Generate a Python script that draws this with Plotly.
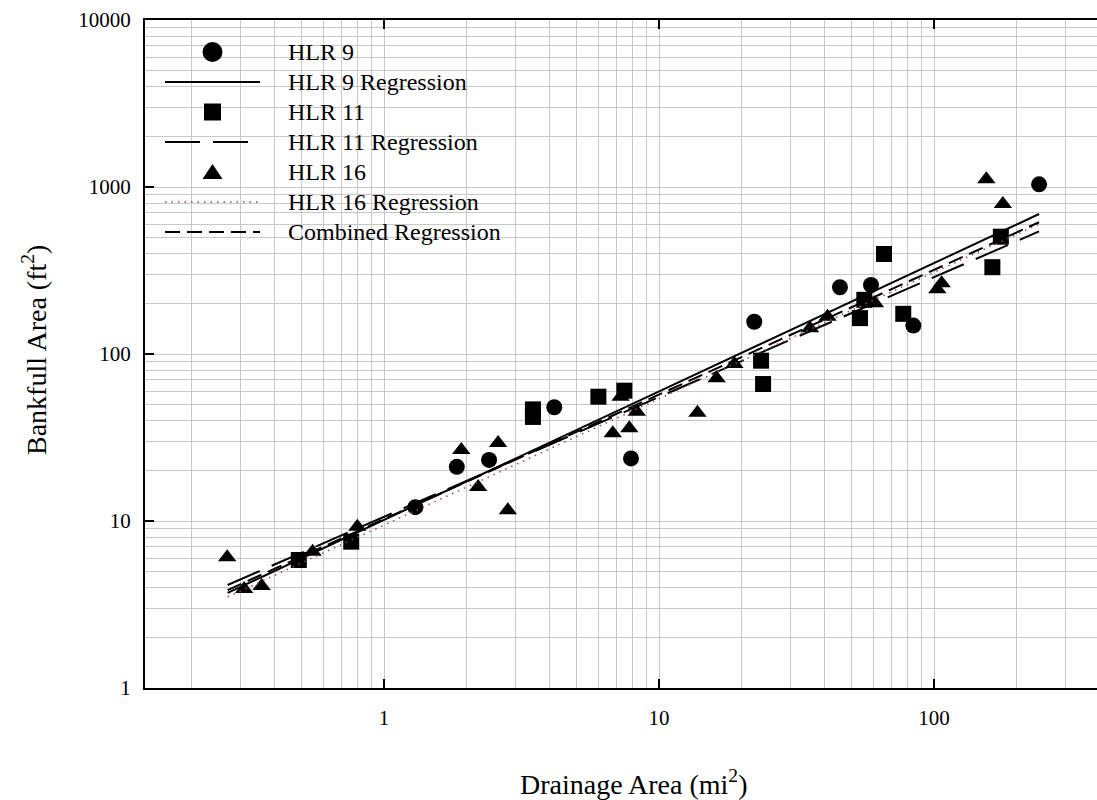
import plotly.graph_objects as go

# Drainage area (mi^2) and bankfull cross-section area (ft^2) by region
hlr9_area = [1.30, 1.84, 2.41, 4.16, 7.91, 22.2, 45.5, 59.0, 84.1, 241]
hlr9_bankfull = [12.1, 21.1, 23.2, 48.0, 23.7, 156, 251, 259, 148, 1038]

hlr11_area = [0.49, 0.76, 3.48, 3.48, 6.02, 7.48, 23.5, 23.9, 53.8, 55.8, 65.8, 77.3, 163, 175]
hlr11_bankfull = [5.84, 7.52, 42.0, 46.6, 55.5, 60.3, 91.2, 66.1, 164, 211, 397, 174, 331, 504]

hlr16_area = [0.269, 0.31, 0.359, 0.55, 0.80, 1.91, 2.20, 2.60, 2.82, 6.79, 7.25, 7.80,
              8.30, 13.8, 16.2, 18.8, 35.4, 41.0, 61.0, 102.8, 106.6, 155, 178]
hlr16_bankfull = [6.06, 3.92, 4.08, 6.55, 9.25, 26.6, 16.0, 29.3, 11.6, 33.5, 55.5, 35.9,
                  45.1, 44.5, 71.6, 87.1, 142.6, 167, 201, 244, 265, 1112, 791]

# Regression curve end points
reg_area = [0.27, 241]
hlr9_fit = [3.71, 689]
hlr11_fit = [4.14, 542]
hlr16_fit = [3.51, 600]
combined_fit = [3.86, 615]

x_ticks = [1, 10, 100]
x_minor = [0.2, 0.3, 0.4, 0.5, 0.6, 0.7, 0.8, 0.9,
           2, 3, 4, 5, 6, 7, 8, 9,
           20, 30, 40, 50, 60, 70, 80, 90, 200, 300]
y_ticks = [1, 10, 100, 1000, 10000]
y_minor = [m * d for d in (1, 10, 100, 1000) for m in range(2, 10)]

FONT = "Liberation Serif"
W, H = 1097, 800
ML, MT, MB, MR = 145, 20, 112, 0
PW, PH = W - ML - MR, H - MT - MB


def px(x):
    return (x - ML) / PW


def py(y):
    return (H - MB - y) / PH


fig = go.Figure()

marker_line = dict(width=0)
fig.add_trace(go.Scatter(x=hlr9_area, y=hlr9_bankfull, mode="markers", name="HLR 9",
                         marker=dict(symbol="circle", size=16, color="black", line=marker_line)))
fig.add_trace(go.Scatter(x=hlr11_area, y=hlr11_bankfull, mode="markers", name="HLR 11",
                         marker=dict(symbol="square", size=16, color="black", line=marker_line)))
fig.add_trace(go.Scatter(x=hlr16_area, y=hlr16_bankfull, mode="markers", name="HLR 16",
                         marker=dict(symbol="triangle-up", size=16, color="black", line=marker_line)))

line_styles = {
    "HLR 9 Regression": dict(color="black", width=2, dash="solid"),
    "HLR 11 Regression": dict(color="black", width=2, dash="35px,13px"),
    "HLR 16 Regression": dict(color="#9c4a4a", width=1.5, dash="1.5px,5px"),
    "Combined Regression": dict(color="black", width=2, dash="15px,7px"),
}
fits = {
    "HLR 9 Regression": hlr9_fit,
    "HLR 11 Regression": hlr11_fit,
    "HLR 16 Regression": hlr16_fit,
    "Combined Regression": combined_fit,
}
for name, vals in fits.items():
    fig.add_trace(go.Scatter(x=reg_area, y=vals, mode="lines", name=name,
                             line=line_styles[name]))

# Hand-built legend in the upper-left corner of the plot
shapes = []
annotations = []
rows = [52, 82, 112, 142, 172, 202, 232]
labels = ["HLR 9", "HLR 9 Regression", "HLR 11", "HLR 11 Regression",
          "HLR 16", "HLR 16 Regression", "Combined Regression"]
gx, lx0, lx1, tx = 212.5, 165, 260, 286
for ry, lab in zip(rows, labels):
    if lab == "HLR 9":
        shapes.append(dict(type="circle", xref="paper", yref="paper",
                           x0=px(gx - 10), x1=px(gx + 10), y0=py(ry + 10), y1=py(ry - 10),
                           fillcolor="black", line=dict(width=0)))
    elif lab == "HLR 11":
        shapes.append(dict(type="rect", xref="paper", yref="paper",
                           x0=px(gx - 8.5), x1=px(gx + 8.5), y0=py(ry + 8.5), y1=py(ry - 8.5),
                           fillcolor="black", line=dict(width=0)))
    elif lab == "HLR 16":
        path = "M {:.5f} {:.5f} L {:.5f} {:.5f} L {:.5f} {:.5f} Z".format(
            px(gx - 10), py(ry + 7), px(gx + 10), py(ry + 7), px(gx), py(ry - 8))
        shapes.append(dict(type="path", xref="paper", yref="paper", path=path,
                           fillcolor="black", line=dict(width=0)))
    else:
        shapes.append(dict(type="line", xref="paper", yref="paper",
                           x0=px(lx0), x1=px(lx1), y0=py(ry), y1=py(ry),
                           line=line_styles[lab]))
    annotations.append(dict(xref="paper", yref="paper", x=px(tx), y=py(ry),
                            xanchor="left", yanchor="middle", showarrow=False,
                            text=lab, font=dict(family=FONT, size=24, color="black")))

annotations.append(dict(xref="paper", yref="paper", x=px(633), y=py(782),
                        xanchor="center", yanchor="middle", showarrow=False,
                        text="Drainage Area (mi<sup>2</sup>)",
                        font=dict(family=FONT, size=28, color="black")))
annotations.append(dict(xref="paper", yref="paper", x=px(35), y=py(350),
                        xanchor="center", yanchor="middle", showarrow=False, textangle=-90,
                        text="Bankfull Area (ft<sup>2</sup>)",
                        font=dict(family=FONT, size=28, color="black")))

grid_color = "#c8c8c8"
fig.update_layout(
    width=W, height=H,
    margin=dict(l=ML, r=MR, t=MT, b=MB, pad=0),
    paper_bgcolor="white", plot_bgcolor="white",
    showlegend=False,
    font=dict(family=FONT, color="black"),
    shapes=shapes, annotations=annotations,
    xaxis=dict(type="log", range=[-0.8691, 2.5927],
               tickmode="array", tickvals=x_ticks, ticktext=[str(v) for v in x_ticks],
               ticks="inside", ticklen=9, tickwidth=1.5, tickcolor="black",
               showline=True, linecolor="black", linewidth=2, mirror="ticks",
               showgrid=True, gridcolor=grid_color, gridwidth=1,
               minor=dict(tickmode="array", tickvals=x_minor, showgrid=True,
                          gridcolor=grid_color, gridwidth=1, ticks=""),
               tickfont=dict(family=FONT, size=21, color="black"),
               ticklabelstandoff=10, zeroline=False),
    yaxis=dict(type="log", range=[0, 4],
               tickmode="array", tickvals=y_ticks, ticktext=[str(v) for v in y_ticks],
               ticks="inside", ticklen=9, tickwidth=1.5, tickcolor="black",
               showline=True, linecolor="black", linewidth=2, mirror=False,
               showgrid=True, gridcolor=grid_color, gridwidth=1,
               minor=dict(tickmode="array", tickvals=y_minor, showgrid=True,
                          gridcolor=grid_color, gridwidth=1, ticks=""),
               tickfont=dict(family=FONT, size=21, color="black"),
               ticklabelstandoff=8, zeroline=False),
)

fig.write_html("out.html")
